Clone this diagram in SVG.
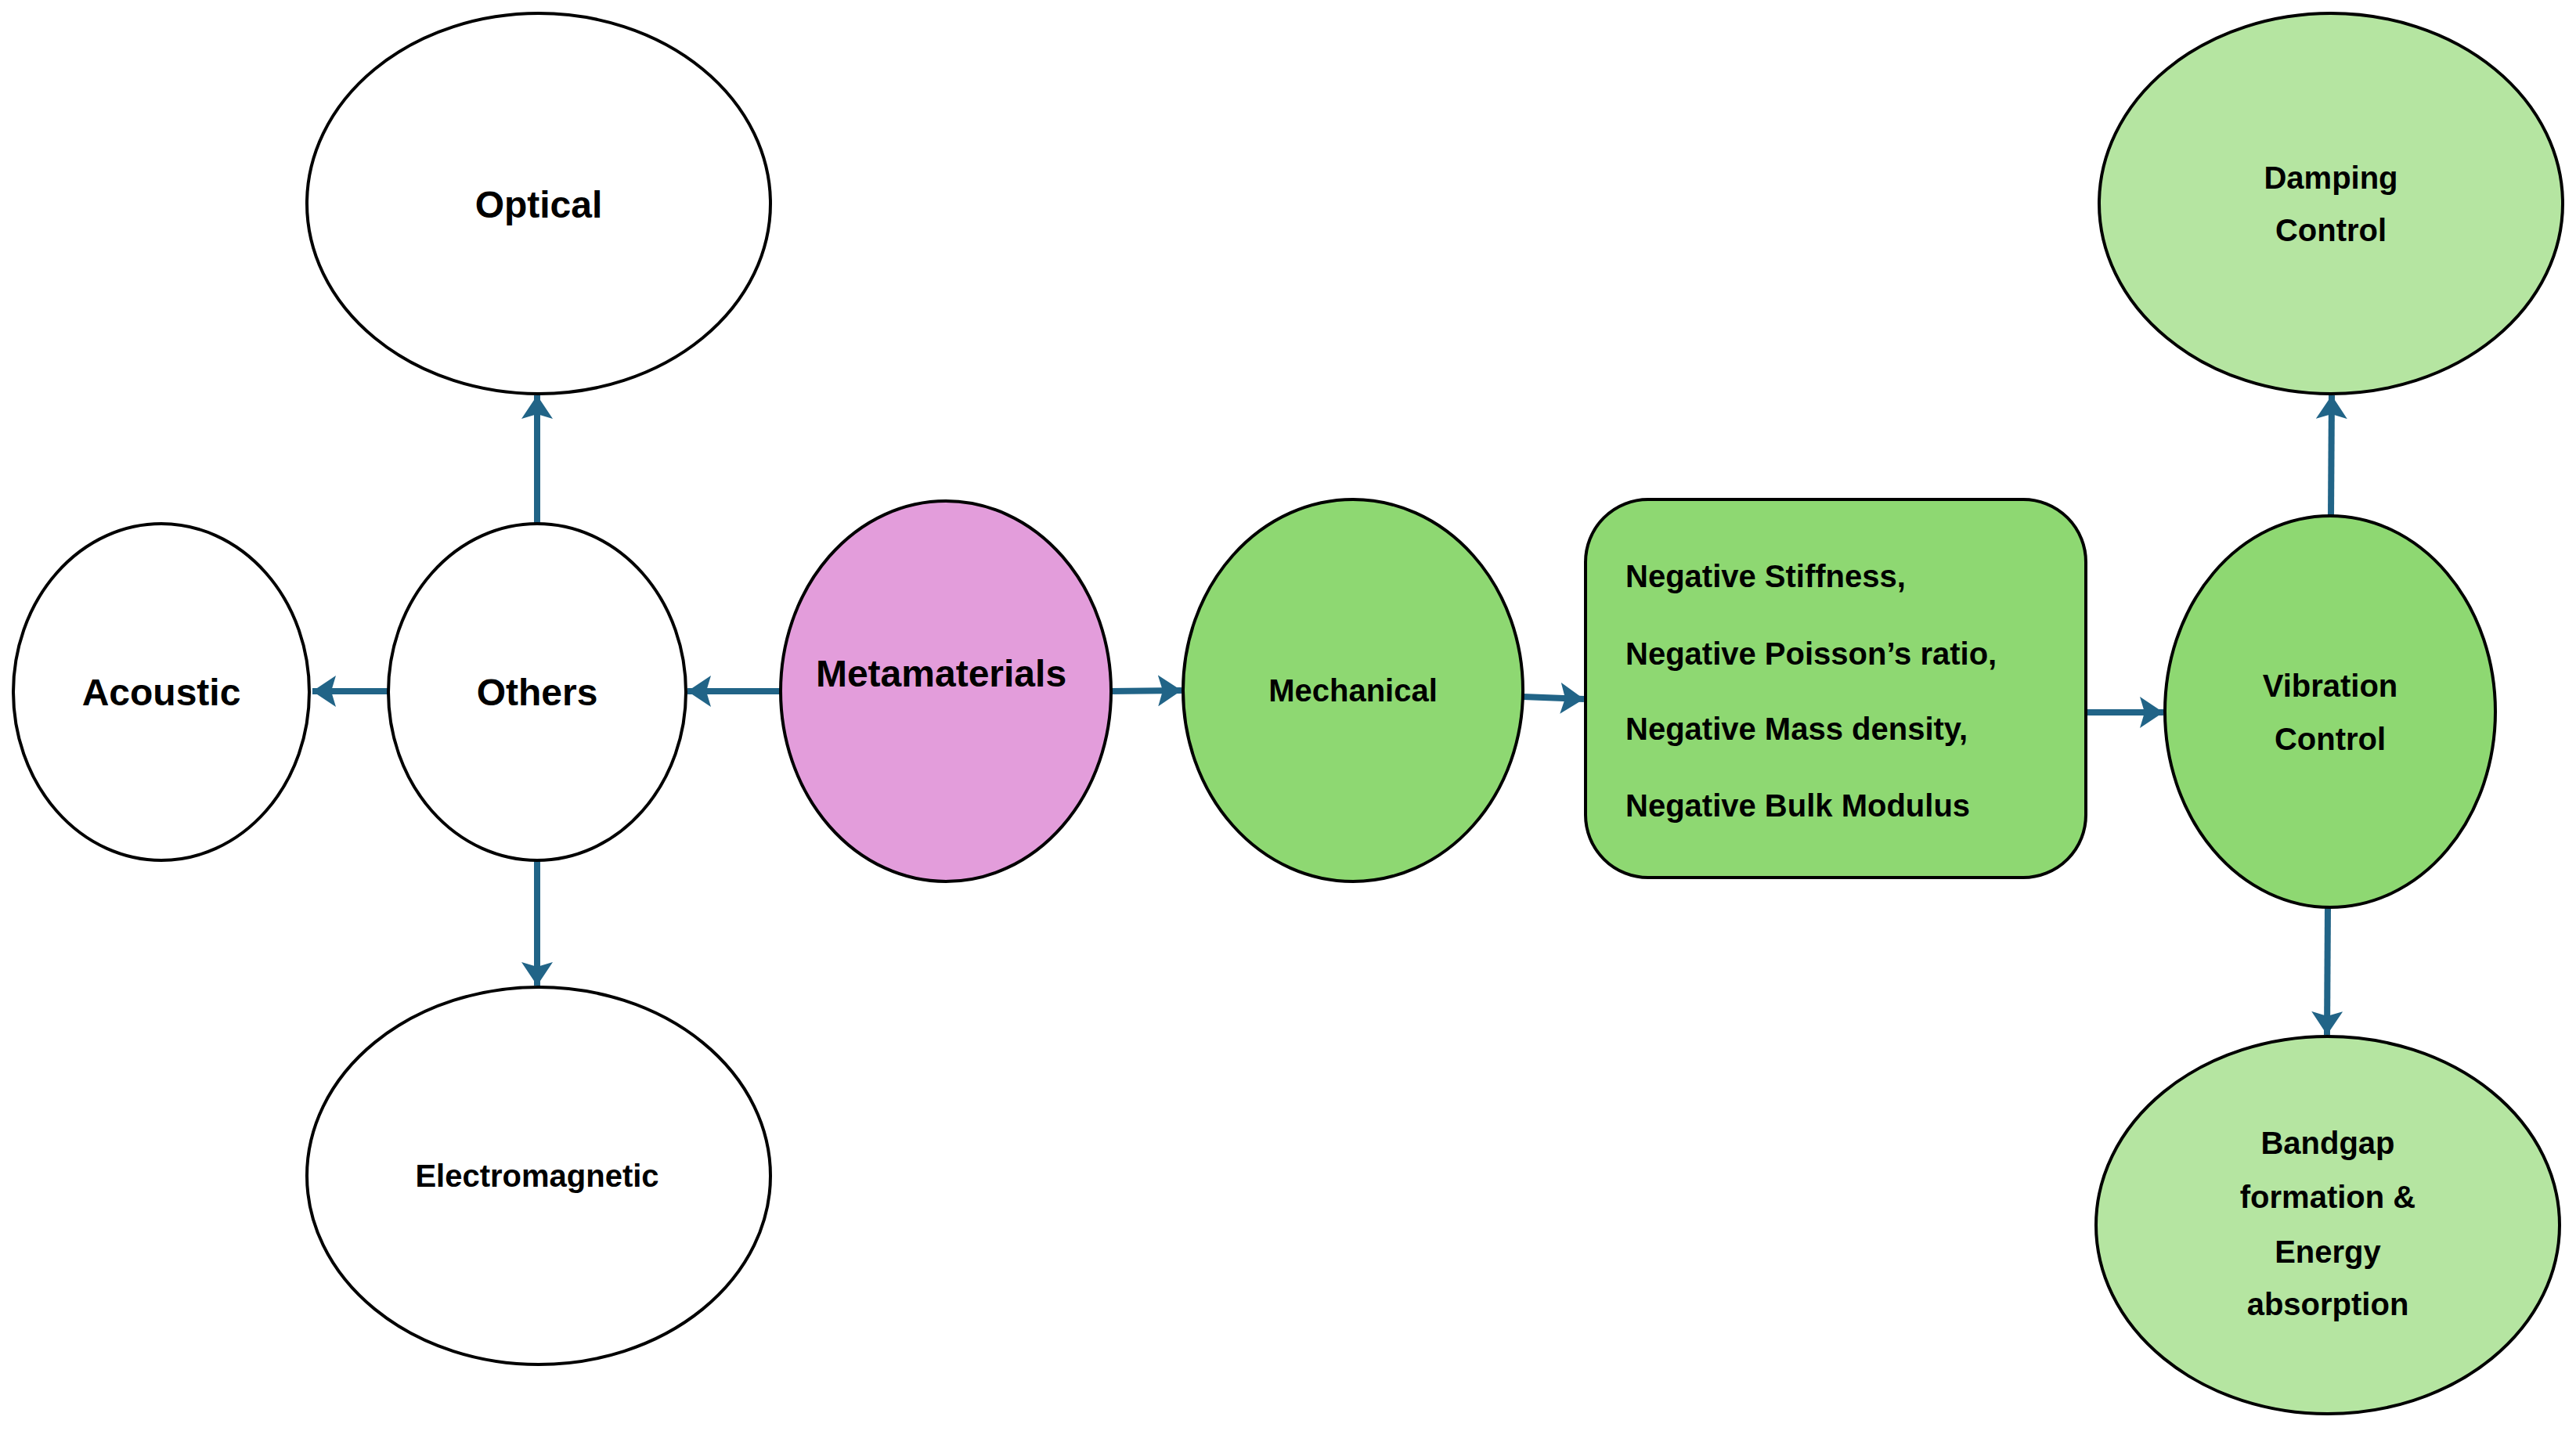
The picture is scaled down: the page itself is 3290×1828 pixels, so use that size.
<svg xmlns="http://www.w3.org/2000/svg" width="3290" height="1828" viewBox="0 0 3290 1828">
<style>
.n{stroke:#000;stroke-width:4}
.w{fill:#fff}.p{fill:#e39ddb}.g{fill:#8ed872}.lg{fill:#b5e5a1}
text{font-family:"Liberation Sans",Arial,sans-serif;font-weight:bold;fill:#000;text-anchor:middle}
.b{font-size:48px}.s{font-size:40px}
.c line{stroke:#216487;stroke-width:8;marker-end:url(#ah)}
</style>
<defs><marker id="ah" markerUnits="userSpaceOnUse" markerWidth="34" markerHeight="40" refX="30" refY="20" orient="auto"><path d="M0,0L30,20L0,40L6,20Z" fill="#216487"/></marker></defs>
<rect width="3290" height="1828" fill="#fff"/>
<g class="c">
<line x1="686" y1="668" x2="686" y2="505"/>
<line x1="497" y1="883" x2="399" y2="883"/>
<line x1="997" y1="883" x2="878" y2="883"/>
<line x1="686" y1="1099" x2="686" y2="1259"/>
<line x1="1418" y1="883" x2="1509" y2="882"/>
<line x1="1945" y1="890" x2="2023" y2="893"/>
<line x1="2664" y1="910" x2="2763" y2="910"/>
<line x1="2977" y1="659" x2="2978" y2="505"/>
<line x1="2973" y1="1159" x2="2972" y2="1322"/>
</g>
<g id="optical"><ellipse class="n w" cx="688" cy="260" rx="296" ry="243"/><text class="b" x="688" y="278">Optical</text></g>
<g id="acoustic"><ellipse class="n w" cx="206" cy="884" rx="189" ry="215"/><text class="b" x="206" y="901">Acoustic</text></g>
<g id="others"><ellipse class="n w" cx="686" cy="884" rx="190" ry="215"/><text class="b" x="686" y="901">Others</text></g>
<g id="metamaterials"><ellipse class="n p" cx="1208" cy="883" rx="211" ry="243"/><text class="b" x="1202" y="877">Metamaterials</text></g>
<g id="electromagnetic"><ellipse class="n w" cx="688" cy="1502" rx="296" ry="241"/><text class="s" x="686" y="1516">Electromagnetic</text></g>
<g id="mechanical"><ellipse class="n g" cx="1728" cy="882" rx="217" ry="244"/><text class="s" x="1728" y="896">Mechanical</text></g>
<g id="properties"><rect class="n g" x="2025" y="638" width="639" height="483" rx="80"/>
<text class="s" x="2076" y="750" style="text-anchor:start">Negative Stiffness,</text>
<text class="s" x="2076" y="849" style="text-anchor:start">Negative Poisson’s ratio,</text>
<text class="s" x="2076" y="945" style="text-anchor:start">Negative Mass density,</text>
<text class="s" x="2076" y="1043" style="text-anchor:start">Negative Bulk Modulus</text></g>
<g id="vibration"><ellipse class="n g" cx="2976" cy="909" rx="211" ry="250"/><text class="s" x="2976" y="890">Vibration</text><text class="s" x="2976" y="958">Control</text></g>
<g id="damping"><ellipse class="n lg" cx="2977" cy="260" rx="296" ry="243"/><text class="s" x="2977" y="241">Damping</text><text class="s" x="2977" y="308">Control</text></g>
<g id="bandgap"><ellipse class="n lg" cx="2973" cy="1565" rx="296" ry="241"/><text class="s" x="2973" y="1474">Bandgap</text><text class="s" x="2973" y="1543">formation &amp;</text><text class="s" x="2973" y="1613">Energy</text><text class="s" x="2973" y="1680">absorption</text></g>
</svg>
